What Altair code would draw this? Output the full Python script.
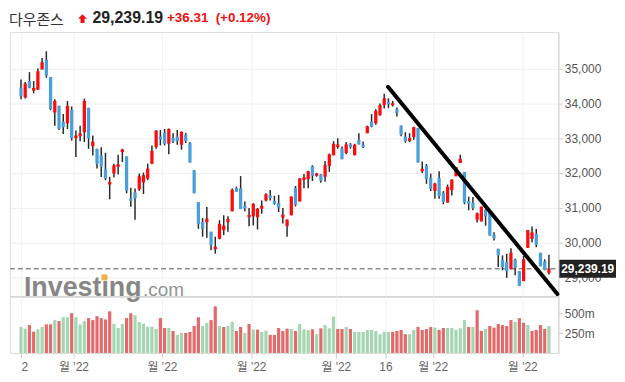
import altair as alt
import pandas as pd

# ---------------- data ----------------
opens = [34457, 34172, 34648, 34372, 34400, 34981, 35267, 34762, 33743, 33934,
         33477, 33429, 33820, 33001, 33058, 33172, 33877, 32772, 32696, 32506,
         32125, 31668, 31982, 32173, 32601, 32477, 31278, 31440, 31525, 31725,
         31839, 32268, 32746, 33050, 33155, 32841, 33012, 33050, 32813, 33107,
         32860, 32081, 31160, 30590, 30580, 30305, 29801, 30105, 30352, 30580,
         30894, 31558, 31558, 31055, 30723, 30751, 30723, 30970, 31207, 31359,
         31197, 31131, 30713, 30466, 30780, 31559, 31179, 31796, 31825, 32195,
         31920, 31958, 31891, 32205, 32509, 32746, 32699, 32575, 32822, 32509,
         32955, 32813, 33145, 33478, 33430, 33668, 33953, 34048, 33953, 33838,
         33364, 33050, 32917, 33031, 33297, 32047, 32209, 31858, 31478, 31858,
         31430, 31145, 31506, 31905, 32285, 32028, 31193, 31145, 30651, 30604,
         30936, 30879, 30224, 29815, 29502, 29435, 29226, 29502, 29169, 28884,
         29844, 30100, 30243, 29701, 29454, 29121]
highs = [34695, 34619, 34905, 34648, 35010, 35314, 35505, 34762, 34124, 33934,
         33696, 34077, 33915, 33220, 33363, 34143, 33877, 33077, 32696, 32744,
         32582, 31887, 32268, 32525, 32696, 32477, 31573, 31554, 31982, 32011,
         32268, 32791, 33240, 33240, 33269, 33280, 33145, 33240, 33202, 33155,
         32889, 32081, 31160, 30704, 31017, 30305, 30162, 30637, 30780, 30751,
         31549, 31606, 31910, 31178, 30989, 31131, 30989, 31207, 31416, 31511,
         31340, 31368, 30989, 30656, 31321, 31625, 31844, 31967, 32062, 32224,
         32005, 31967, 32347, 32556, 32917, 33002, 32765, 32889, 32860, 32841,
         33145, 32908, 33364, 33696, 33838, 34000, 34285, 34152, 34076, 33886,
         33364, 33174, 33145, 33335, 33297, 32333, 32257, 31981, 31715, 32047,
         31478, 31668, 31810, 32171, 32523, 32028, 31316, 31306, 30860, 31031,
         30955, 30879, 30290, 29815, 29625, 29672, 29834, 29530, 29169, 29606,
         30356, 30461, 30385, 29701, 29511, 29644]
lows = [34124, 34143, 34440, 34295, 34390, 34981, 34743, 33810, 33362, 33239,
        33125, 33267, 32934, 32458, 32915, 32887, 32696, 32506, 32125, 31887,
        31792, 31240, 31868, 31954, 32315, 31411, 31030, 30649, 31487, 31392,
        31792, 32249, 32699, 32794, 32794, 32537, 32860, 32813, 32670, 32860,
        32300, 31416, 30390, 30162, 30133, 29772, 29678, 30086, 30210, 30305,
        30894, 31463, 30960, 30894, 30466, 30485, 30371, 30827, 31178, 31207,
        31083, 30875, 30542, 30162, 30780, 31036, 31179, 31559, 31559, 31768,
        31891, 31720, 31749, 32034, 32509, 32699, 32395, 32537, 32699, 32509,
        32822, 32718, 33145, 33316, 33392, 33649, 33858, 33867, 33915, 33630,
        33060, 32870, 32889, 32955, 32300, 32000, 31686, 31478, 31259, 31259,
        31098, 31145, 31354, 31905, 32285, 31098, 30926, 30926, 30575, 30604,
        30480, 30195, 30053, 29292, 29197, 28979, 29226, 29055, 28742, 28884,
        29844, 30005, 29862, 29311, 29197, 29074]
closes = [34219, 34581, 34457, 34448, 34933, 35190, 34810, 33839, 34076, 33267,
          33315, 33934, 33001, 33077, 33144, 34077, 33001, 32906, 32268, 32173,
          31839, 31744, 32220, 32249, 32677, 31487, 31202, 31268, 31906, 31935,
          32125, 32639, 33221, 32974, 32841, 33269, 32908, 32917, 33183, 32917,
          32300, 31416, 30533, 30390, 30685, 29925, 29877, 30533, 30485, 30675,
          31511, 31463, 30960, 30979, 30789, 31112, 30970, 31055, 31387, 31273,
          31112, 31007, 30799, 30656, 31321, 31084, 31844, 31872, 32053, 31920,
          31986, 31777, 32224, 32537, 32841, 32822, 32395, 32822, 32746, 32813,
          32822, 32746, 33345, 33335, 33791, 33953, 34152, 33981, 34010, 33725,
          33098, 32917, 33002, 33316, 32300, 32124, 31829, 31544, 31696, 31335,
          31164, 31601, 31810, 32171, 32409, 31145, 31117, 30984, 30841, 31031,
          30746, 30195, 30119, 29625, 29292, 29169, 29701, 29264, 28742, 29511,
          30356, 30290, 29929, 29311, 29203, 29239.19]
volumes = [329, 308, 354, 271, 300, 329, 363, 363, 417, 404,
           454, 454, 504, 454, 363, 404, 442, 417, 467, 442,
           425, 529, 371, 317, 367, 442, 504, 479, 392, 371,
           333, 333, 304, 442, 317, 317, 279, 229, 254, 254,
           267, 342, 454, 342, 383, 417, 592, 342, 329, 342,
           396, 279, 329, 254, 367, 296, 296, 267, 283, 229,
           229, 317, 279, 308, 304, 279, 367, 300, 292, 300,
           238, 313, 354, 313, 463, 304, 304, 329, 304, 267,
           267, 267, 292, 292, 279, 238, 267, 267, 267, 279,
           292, 238, 238, 292, 329, 292, 304, 329, 321, 292,
           317, 317, 317, 292, 313, 417, 329, 329, 542, 279,
           304, 342, 321, 367, 354, 342, 417, 392, 442, 383,
           354, 279, 292, 354, 304, 342]
vol_colors = list("ggrrggrrgr" "ggrgggrrrr" "rrgggrrggg" "gggrrgrggr"
                  "rrrggrrgrg" "grrgrgrggr" "rrrrgrgggr" "grgggrrgrg"
                  "ggggggggr" "r" "rrggrrrrgr" "rgggggrgrr" "grrrrrrgrr"
                  "grrrrg")
tick_pos = [0, 12.55, 33.5, 54.6, 74.65, 86.4, 97.6, 118.8]
label_pos = [0.9, 12.55, 33.5, 54.6, 74.65, 86.4, 97.6, 118.8]
tick_lab = ["2", "월 '22", "월 '22", "월 '22", "월 '22", "16", "월 '22", "월 '22"]
price_ticks = [29000, 30000, 31000, 32000, 33000, 34000, 35000]
vol_ticks = [250, 500]
last_price = 29239.19
trend_idx = [86.9, 127.0]
trend_price = [34483, 28511]
title_name = "다우존스"
title_price = "29,239.19"
title_change = "+36.31"
title_pct = "(+0.12%)"

# ---------------- layout ----------------
W, HP, HV = 552, 266, 57
PMIN, PMAX = 28446, 36060
XDOM = [-1.43, 126.06]
RED, BLUE = "#fb0d0d", "#4aa0dc"
VRED, VGREEN = "#e26a6a", "#a5d6b2"
FONT = "Liberation Sans"

n = len(opens)
df = pd.DataFrame({
    "i": list(range(n)), "o": opens, "h": highs, "l": lows, "c": closes,
    "d": ["up" if c >= o else "down" for o, c in zip(opens, closes)],
    "v": volumes, "vc": vol_colors[:n],
})

xs = alt.Scale(domain=XDOM, nice=False, zero=False)
ys = alt.Scale(domain=[PMIN, PMAX], nice=False, zero=False)
vs = alt.Scale(domain=[0, 719], nice=False)

x_axis_p = alt.Axis(values=tick_pos, labels=False, ticks=False, domain=True,
                    domainColor="#bdbdbd", grid=True, gridColor="#f2f2f2", title=None)
y_axis_p = alt.Axis(orient="right", values=price_ticks,
                    labelExpr="format(datum.value, ',')", tickSize=4,
                    tickColor="#cccccc", domainColor="#d4d4d4", grid=True,
                    gridColor="#efefef", labelColor="#555555", labelFontSize=12,
                    labelFont=FONT, labelPadding=2, title=None)

X = alt.X("i:Q", scale=xs, axis=x_axis_p)

base = alt.Chart(df)
wicks = base.mark_rule(color="#2a2a2a", strokeWidth=1.5).encode(
    x=X, y=alt.Y("l:Q", scale=ys, axis=y_axis_p), y2="h:Q")
bodies = base.mark_bar(size=3.3).encode(
    x=X, y=alt.Y("o:Q", scale=ys, axis=y_axis_p), y2="c:Q",
    color=alt.Color("d:N", scale=alt.Scale(domain=["up", "down"], range=[RED, BLUE]), legend=None))

lp = pd.DataFrame({"p": [last_price], "t": [f"{last_price:,.2f}"]})
dashed = alt.Chart(lp).mark_rule(strokeDash=[5, 3], color="#8c8c8c", strokeWidth=1.5).encode(
    y=alt.Y("p:Q", scale=ys, axis=y_axis_p), x=alt.value(0), x2=alt.value(W))

tr = pd.DataFrame({"i": trend_idx, "p": trend_price})
trend = alt.Chart(tr).mark_line(color="black", strokeWidth=4, strokeCap="round").encode(
    x=X, y=alt.Y("p:Q", scale=ys, axis=y_axis_p))

by = HP * (PMAX - last_price) / (PMAX - PMIN)
box = alt.Chart(lp).mark_rect(color="#222222").encode(
    x=alt.value(W + 1), x2=alt.value(W + 58), y=alt.value(by - 9), y2=alt.value(by + 9))
boxtext = alt.Chart(lp).mark_text(color="white", fontWeight="bold", fontSize=12, font=FONT,
                                  align="center", baseline="middle").encode(
    x=alt.value(W + 29.5), y=alt.Y("p:Q", scale=ys, axis=y_axis_p), text="t:N")

one = pd.DataFrame({"a": [0]})
TY = -14
t1 = alt.Chart(one).mark_text(fontSize=15, font="Noto Sans CJK KR", color="#333333",
                              align="left", baseline="middle").encode(
    x=alt.value(-1), y=alt.value(TY + 1.5), text=alt.value(title_name))
arrow = alt.Chart(one).mark_point(
    shape="M0,-1L1,0L0.45,0L0.45,1L-0.45,1L-0.45,0L-1,0Z", filled=True, color="#ee1111",
    opacity=1, size=80).encode(x=alt.value(73), y=alt.value(TY + 0.5))
t2 = alt.Chart(one).mark_text(fontSize=16, font=FONT, fontWeight="bold", color="#222222",
                              align="left", baseline="middle").encode(
    x=alt.value(83), y=alt.value(TY), text=alt.value(title_price))
t3 = alt.Chart(one).mark_text(fontSize=13.5, font=FONT, fontWeight="bold", color="#ee1111",
                              align="left", baseline="middle").encode(
    x=alt.value(158), y=alt.value(TY), text=alt.value(title_change))
t4 = alt.Chart(one).mark_text(fontSize=13.5, font=FONT, fontWeight="bold", color="#ee1111",
                              align="left", baseline="middle").encode(
    x=alt.value(207), y=alt.value(TY), text=alt.value(title_pct))

wm1 = alt.Chart(one).mark_text(fontSize=27, font=FONT, fontWeight="bold", color="#7b7b7b",
                               opacity=0.9, align="left", baseline="alphabetic").encode(
    x=alt.value(14), y=alt.value(HP), text=alt.value("Investing"))
wm2 = alt.Chart(one).mark_text(fontSize=19, font=FONT, color="#888888", opacity=0.9,
                               align="left", baseline="alphabetic").encode(
    x=alt.value(134), y=alt.value(HP), text=alt.value(".com"))
wm3 = alt.Chart(one).mark_rect(color="#f6b24a").encode(
    x=alt.value(92), x2=alt.value(98), y=alt.value(HP - 22), y2=alt.value(HP - 16))

price = alt.layer(dashed, wicks, bodies, trend, box, boxtext, t1, arrow, t2, t3, t4,
                  wm1, wm2, wm3).properties(width=W, height=HP)

# ---------------- volume pane ----------------
x_axis_v = alt.Axis(values=tick_pos, labels=False, ticks=True, tickSize=5, tickColor="#cccccc",
                    domain=True, domainColor="#d9d9d9", grid=True, gridColor="#f2f2f2", title=None)
y_axis_v = alt.Axis(orient="right", values=vol_ticks, labelExpr="datum.value + 'm'", tickSize=4,
                    tickColor="#cccccc", domainColor="#d4d4d4", grid=False,
                    labelColor="#555555", labelFontSize=12, labelFont=FONT, labelPadding=2,
                    title=None)
vbars = alt.Chart(df).mark_bar(size=3.2).encode(
    x=alt.X("i:Q", scale=xs, axis=x_axis_v),
    y=alt.Y("v:Q", scale=vs, axis=y_axis_v),
    color=alt.Color("vc:N", scale=alt.Scale(domain=["g", "r"], range=[VGREEN, VRED]), legend=None))
labs = pd.DataFrame({"t": label_pos, "lab": tick_lab})
vlabels = alt.Chart(labs).mark_text(fontSize=12, font=FONT + ", Noto Sans CJK KR", color="#666666",
                                     align="center", baseline="middle").encode(
    x=alt.X("t:Q", scale=xs, axis=x_axis_v), y=alt.value(HV + 14), text="lab:N")
volume = alt.layer(vbars, vlabels).properties(width=W, height=HV)

chart = alt.vconcat(price, volume, spacing=0, bounds="flush").resolve_scale(
    y="independent", color="independent").properties(
    padding={"left": 0, "top": 0, "right": 0, "bottom": 0},
    autosize=alt.AutoSizeParams(type="pad")).configure_view(
    stroke=None).configure(background="white")

chart.save("out.html", embed_options={"renderer": "svg", "actions": False})
